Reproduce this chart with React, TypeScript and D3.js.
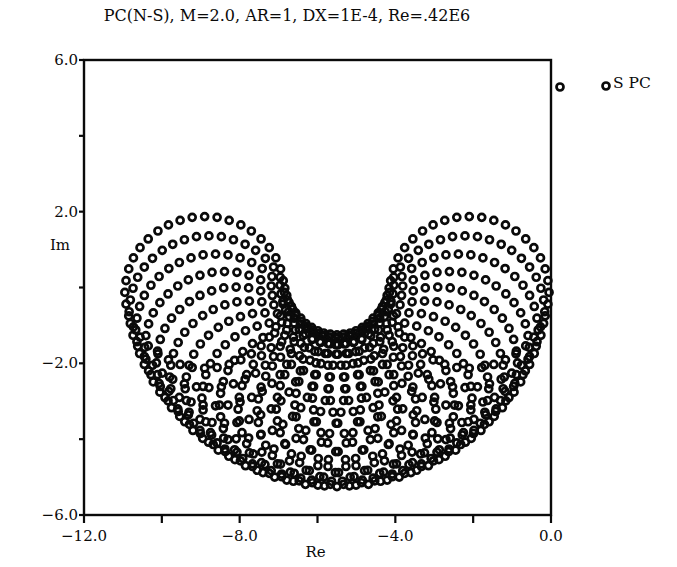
import React from "react";
import * as d3 from "d3";

// Axial (streamwise) part of each eigenvalue family: centre of each ring
const ringCentreRe = [-8.9, -8.79, -8.62, -8.39, -8.09, -7.75, -7.35, -6.92, -6.47, -5.99, -5.5,
  -5.01, -4.53, -4.08, -3.65, -3.25, -2.91, -2.61, -2.38, -2.21, -2.1];
const ringCentreIm = [-0.13, -0.64, -1.12, -1.58, -1.99, -2.36, -2.67, -2.92, -3.1, -3.21, -3.25,
  -3.21, -3.1, -2.92, -2.67, -2.36, -1.99, -1.58, -1.12, -0.64, -0.13];

// Transverse part: offsets of the eigenvalues around each ring
const ringOffsetRe = [2.05, 2.02, 1.95, 1.83, 1.66, 1.45, 1.2, 0.93, 0.63, 0.32, 0, -0.32, -0.63, -0.93,
  -1.2, -1.45, -1.66, -1.83, -1.95, -2.02, -2.05, -2.02, -1.95, -1.83, -1.66, -1.45, -1.2, -0.93, -0.63,
  -0.32, 0, 0.32, 0.63, 0.93, 1.2, 1.45, 1.66, 1.83, 1.95, 2.02];
const ringOffsetIm = [0, 0.31, 0.62, 0.91, 1.18, 1.41, 1.62, 1.78, 1.9, 1.98, 2.0, 1.98, 1.9, 1.78, 1.62,
  1.41, 1.18, 0.91, 0.62, 0.31, 0, -0.31, -0.62, -0.91, -1.18, -1.41, -1.62, -1.78, -1.9, -1.98, -2.0,
  -1.98, -1.9, -1.78, -1.62, -1.41, -1.18, -0.91, -0.62, -0.31];

const xTicks = [-12, -10, -8, -6, -4, -2, 0];
const xTickLabels = ["\u221212.0", "", "\u22128.0", "", "\u22124.0", "", "0.0"];
const yTicks = [6, 4, 2, 0, -2, -4, -6];
const yTickLabels = ["6.0", "", "2.0", "", "\u22122.0", "", "\u22126.0"];

const title = "PC(N-S), M=2.0, AR=1, DX=1E-4, Re=.42E6";
const legendLabel = "S PC";

const W = 677;
const H = 567;
const left = 84, right = 551, top = 60, bottom = 515;
const font = "'DejaVu Serif', 'Liberation Serif', serif";
const ink = "#0a0a0a";

export default function App() {
  const x = d3.scaleLinear().domain([-12, 0]).range([left, right]);
  const y = d3.scaleLinear().domain([-6, 6]).range([bottom, top]);

  const centres = ringCentreRe.map((re, i) => ({ re, im: ringCentreIm[i] }));
  const offsets = ringOffsetRe.map((re, i) => ({ re, im: ringOffsetIm[i] }));
  const points = d3.cross(centres, offsets, (c, o) => ({ re: c.re + o.re, im: c.im + o.im }));

  const marker = (cx: number, cy: number, key: string | number) => (
    <circle key={key} cx={cx} cy={cy} r={3.5} fill="none" stroke={ink} strokeWidth={2.7} />
  );

  return (
    <svg width={W} height={H} viewBox={`0 0 ${W} ${H}`} style={{ display: "block", margin: "-8px" }}>
      <rect width={W} height={H} fill="#fff" />
      <text x={287} y={21} textAnchor="middle" fontFamily={font} fontSize={16} fill={ink}>
        {title}
      </text>

      <g>
        {points.map((p, i) => marker(x(p.re), y(p.im), i))}
      </g>

      {/* frame */}
      <rect x={left} y={top} width={right - left} height={bottom - top} fill="none" stroke={ink} strokeWidth={2.4} />

      {/* x axis */}
      {xTicks.map((t, i) => (
        <g key={"xt" + i}>
          <line x1={x(t)} x2={x(t)} y1={bottom} y2={bottom + 8} stroke={ink} strokeWidth={2.2} />
          {xTickLabels[i] && (
            <text x={x(t)} y={bottom + 26} textAnchor="middle" fontFamily={font} fontSize={15} fill={ink}>
              {xTickLabels[i]}
            </text>
          )}
        </g>
      ))}
      <text x={(left + right) / 2 - 2} y={557} textAnchor="middle" fontFamily={font} fontSize={15} fill={ink}>Re</text>

      {/* y axis */}
      {yTicks.map((t, i) => (
        <g key={"yt" + i}>
          <line x1={left - 5} x2={left} y1={y(t)} y2={y(t)} stroke={ink} strokeWidth={2.2} />
          {yTickLabels[i] && (
            <text x={left - 6} y={y(t) + 5} textAnchor="end" fontFamily={font} fontSize={15} fill={ink}>
              {yTickLabels[i]}
            </text>
          )}
        </g>
      ))}
      <text x={60} y={250} textAnchor="middle" fontFamily={font} fontSize={15} fill={ink}>Im</text>

      {/* legend */}
      {marker(560, 87, "lg1")}
      {marker(606, 86, "lg2")}
      <text x={613} y={88} fontFamily={font} fontSize={15.5} fill={ink}>{legendLabel}</text>
    </svg>
  );
}
